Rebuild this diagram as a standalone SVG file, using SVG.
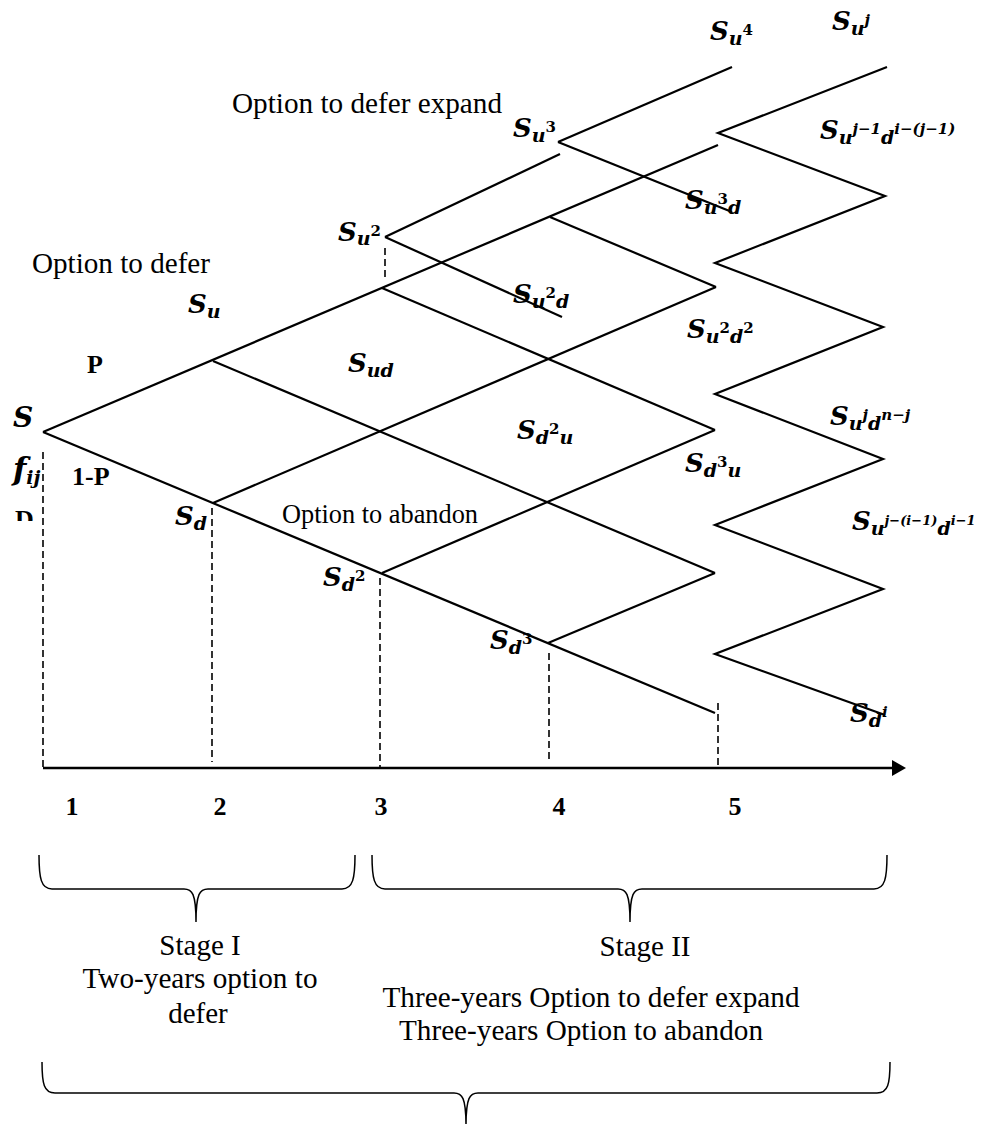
<svg xmlns="http://www.w3.org/2000/svg" width="984" height="1124" viewBox="0 0 984 1124">
<style>
.ln{stroke:#000;stroke-width:2.2;fill:none;stroke-linecap:butt}
.ds{stroke:#000;stroke-width:1.6;fill:none;stroke-dasharray:7 4}
.br{stroke:#000;stroke-width:1.5;fill:none}
.m{font-family:"DejaVu Serif","Liberation Serif",serif;font-style:italic;font-weight:bold;font-size:26px;fill:#000}
.sb{font-size:19px}
.sp{font-size:15px}
.sps{font-size:13px}
.up{font-style:normal}
.t{font-family:"Liberation Serif","Times New Roman",serif;font-size:29px;fill:#000}
.b{font-family:"Liberation Serif","Times New Roman",serif;font-weight:bold;font-size:26px;fill:#000}
</style>
<defs>
<marker id="arr" viewBox="0 0 14 16" refX="0" refY="8" markerWidth="14" markerHeight="16" markerUnits="userSpaceOnUse" orient="auto">
<path d="M0,0 L14,8 L0,16 Z" fill="#000"/>
</marker>
<clipPath id="clipD"><rect x="0" y="500" width="60" height="21"/></clipPath>
</defs>
<rect width="984" height="1124" fill="#fff"/>

<g id="connectors">
<line class="ln" x1="43" y1="432" x2="718" y2="145"/>
<line class="ln" x1="213" y1="503" x2="716" y2="287"/>
<line class="ln" x1="382" y1="573" x2="715" y2="430"/>
<line class="ln" x1="548" y1="643" x2="715" y2="573"/>
<line class="ln" x1="43" y1="432" x2="715" y2="713"/>
<line class="ln" x1="213" y1="361" x2="715" y2="573"/>
<line class="ln" x1="382" y1="288" x2="715" y2="430"/>
<line class="ln" x1="550" y1="217" x2="716" y2="287"/>
<line class="ln" x1="385" y1="237" x2="560" y2="154"/>
<line class="ln" x1="385" y1="237" x2="562" y2="317"/>
<line class="ln" x1="558" y1="142" x2="732" y2="67"/>
<line class="ln" x1="558" y1="142" x2="732" y2="212"/>
<polyline class="ln" points="887,67 718,133 885,196 715,263 883,327 715,394 883,459 715,525 883,589 715,654 885,715"/>
<line class="ds" x1="43" y1="452" x2="43" y2="768"/>
<line class="ds" x1="385" y1="248" x2="385" y2="277"/>
<line class="ds" x1="212" y1="508" x2="212" y2="762"/>
<line class="ds" x1="380" y1="578" x2="380" y2="768"/>
<line class="ds" x1="549" y1="653" x2="549" y2="762"/>
<line class="ds" x1="718" y1="703" x2="718" y2="768"/>
<line x1="43" y1="768" x2="892" y2="768" stroke="#000" stroke-width="2.6" marker-end="url(#arr)"/>
</g>

<g id="labels-options">
<text class="t" x="232" y="113" textLength="270" lengthAdjust="spacingAndGlyphs">Option to defer expand</text>
<text class="t" x="32" y="273" textLength="178" lengthAdjust="spacingAndGlyphs">Option to defer</text>
<text class="t" x="282" y="523" style="font-size:26.5px" textLength="196" lengthAdjust="spacingAndGlyphs">Option to abandon</text>
</g>

<g id="node-S"><text class="m" x="13" y="427" style="font-size:28px">S</text></g>
<g id="node-P"><text class="b" x="87" y="373">P</text></g>
<g id="node-1P"><text class="b" x="72" y="485">1-P</text></g>
<g id="node-fij"><text class="m" x="13" y="480" style="font-size:31px">f<tspan class="sb" dy="4">ij</tspan></text></g>
<g id="node-D"><text class="b" x="15" y="528" clip-path="url(#clipD)">D</text></g>

<g id="node-Su"><text class="m" x="188" y="313">S<tspan class="sb" dy="5">u</tspan></text></g>
<g id="node-Sd"><text class="m" x="175" y="525">S<tspan class="sb" dy="5">d</tspan></text></g>
<g id="node-Sud"><text class="m" x="348" y="372">S<tspan class="sb" dy="5">ud</tspan></text></g>
<g id="node-Su2"><text class="m" x="338" y="241">S<tspan class="sb" dy="4">u</tspan><tspan class="sp up" dy="-9">2</tspan></text></g>
<g id="node-Sd2"><text class="m" x="323" y="586">S<tspan class="sb" dy="5">d</tspan><tspan class="sp up" dy="-10">2</tspan></text></g>
<g id="node-Su3"><text class="m" x="513" y="137">S<tspan class="sb" dy="5">u</tspan><tspan class="sp up" dy="-10">3</tspan></text></g>
<g id="node-Su2d"><text class="m" x="513" y="303">S<tspan class="sb" dy="5">u</tspan><tspan class="sp up" dy="-10">2</tspan><tspan class="sb" dy="10">d</tspan></text></g>
<g id="node-Sd2u"><text class="m" x="517" y="439">S<tspan class="sb" dy="5">d</tspan><tspan class="sp up" dy="-10">2</tspan><tspan class="sb" dy="10">u</tspan></text></g>
<g id="node-Sd3"><text class="m" x="490" y="649">S<tspan class="sb" dy="5">d</tspan><tspan class="sp up" dy="-10">3</tspan></text></g>
<g id="node-Su4"><text class="m" x="710" y="40">S<tspan class="sb" dy="5">u</tspan><tspan class="sp up" dy="-10">4</tspan></text></g>
<g id="node-Su3d"><text class="m" x="685" y="209">S<tspan class="sb" dy="5">u</tspan><tspan class="sp up" dy="-10">3</tspan><tspan class="sb" dy="10">d</tspan></text></g>
<g id="node-Su2d2"><text class="m" x="687" y="338">S<tspan class="sb" dy="5">u</tspan><tspan class="sp up" dy="-10">2</tspan><tspan class="sb" dy="10">d</tspan><tspan class="sp up" dy="-10">2</tspan></text></g>
<g id="node-Sd3u"><text class="m" x="685" y="472">S<tspan class="sb" dy="5">d</tspan><tspan class="sp up" dy="-10">3</tspan><tspan class="sb" dy="10">u</tspan></text></g>
<g id="node-Suj"><text class="m" x="832" y="30">S<tspan class="sb" dy="5">u</tspan><tspan class="sp" dy="-10">j</tspan></text></g>
<g id="node-Suj1"><text class="m" x="820" y="139">S<tspan class="sb" dy="5">u</tspan><tspan class="sp" dy="-10">j−1</tspan><tspan class="sb" dy="10">d</tspan><tspan class="sp" dy="-10">i−(j−1)</tspan></text></g>
<g id="node-Sujdnj"><text class="m" x="830" y="425">S<tspan class="sb" dy="5">u</tspan><tspan class="sp" dy="-10">j</tspan><tspan class="sb" dy="10">d</tspan><tspan class="sp" dy="-10">n−j</tspan></text></g>
<g id="node-Suji1"><text class="m" x="852" y="530">S<tspan class="sb" dy="5">u</tspan><tspan class="sps" dy="-10">j−(i−1)</tspan><tspan class="sb" dy="10">d</tspan><tspan class="sps" dy="-10">i−1</tspan></text></g>
<g id="node-Sdi"><text class="m" x="850" y="722">S<tspan class="sb" dy="5">d</tspan><tspan class="sp" dy="-10">i</tspan></text></g>

<g id="axis-numbers">
<text class="b" x="72" y="815" text-anchor="middle">1</text>
<text class="b" x="220" y="815" text-anchor="middle">2</text>
<text class="b" x="381" y="815" text-anchor="middle">3</text>
<text class="b" x="559" y="815" text-anchor="middle">4</text>
<text class="b" x="735" y="815" text-anchor="middle">5</text>
</g>

<g id="brace-stage1">
<path class="br" d="M39,855 C39,878 41,889 52,889 L184,889 C192,889 196,893 196,922 C196,893 200,889 208,889 L342,889 C353,889 355,878 355,855"/>
<text class="t" x="200" y="955" text-anchor="middle">Stage I</text>
<text class="t" x="200" y="988" text-anchor="middle" textLength="235" lengthAdjust="spacingAndGlyphs">Two-years option to</text>
<text class="t" x="198" y="1023" text-anchor="middle">defer</text>
</g>
<g id="brace-stage2">
<path class="br" d="M372,855 C372,878 374,889 385,889 L618,889 C626,889 630,893 630,922 C630,893 634,889 642,889 L874,889 C885,889 887,878 887,855"/>
<text class="t" x="645" y="956" text-anchor="middle">Stage II</text>
<text class="t" x="591" y="1007" text-anchor="middle" textLength="417" lengthAdjust="spacingAndGlyphs">Three-years Option to defer expand</text>
<text class="t" x="581" y="1040" text-anchor="middle" textLength="364" lengthAdjust="spacingAndGlyphs">Three-years Option to abandon</text>
</g>
<g id="brace-total">
<path class="br" d="M42,1062 C42,1084 44,1093 55,1093 L454,1093 C462,1093 466,1097 466,1126 C466,1097 470,1093 478,1093 L877,1093 C888,1093 890,1084 890,1062"/>
</g>
</svg>
